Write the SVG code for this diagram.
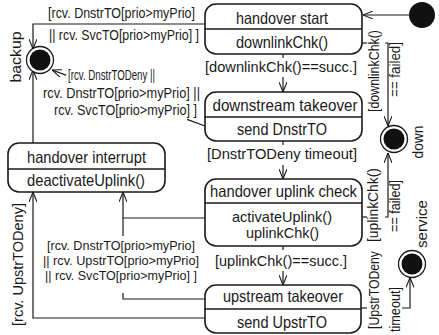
<svg xmlns="http://www.w3.org/2000/svg" width="439" height="335" viewBox="0 0 439 335">
<defs>
<style>
.box{fill:#fff;stroke:#1a1a1a;stroke-width:1.6}
.div{stroke:#1a1a1a;stroke-width:1.4}
.ln{fill:none;stroke:#1a1a1a;stroke-width:1.2}
.arr{fill:none;stroke:#1a1a1a;stroke-width:1.2;marker-end:url(#a)}
.nt{font-family:"Liberation Sans",Arial,sans-serif;font-size:16.5px;fill:#1a1a1a;text-anchor:middle}
.ns{font-size:15px}
.et{font-family:"Liberation Sans",Arial,sans-serif;font-size:15px;fill:#1a1a1a}
.es{font-size:13.5px}
.rt{font-family:"Liberation Sans",Arial,sans-serif;font-size:14px;fill:#1a1a1a}
.st{font-family:"Liberation Sans",Arial,sans-serif;font-size:15px;fill:#1a1a1a;text-anchor:middle}
.ring{fill:#fff;stroke:#1a1a1a;stroke-width:1.3}
.dot{fill:#111}
</style>
<marker id="a" viewBox="0 0 10 8" refX="10" refY="4" markerWidth="10" markerHeight="8" markerUnits="userSpaceOnUse" orient="auto">
<path d="M0,0 L10,4 L0,8" fill="none" stroke="#1a1a1a" stroke-width="1.1"/>
</marker>
</defs>
<rect width="439" height="335" fill="#fff"/>

<g id="connectors">
<path class="arr" d="M409,15 H363"/>
<path class="arr" d="M205,24 H33 V49"/>
<path class="ln" d="M205,126 L187,119.4"/>
<path class="arr" d="M66,75.1 L52,70"/>
<path class="ln" d="M283,54 V58"/>
<path class="arr" d="M283,77 V92"/>
<path class="ln" d="M283,141 V145"/>
<path class="arr" d="M283,165 V179"/>
<path class="ln" d="M283,246 V250"/>
<path class="arr" d="M283,271 V285"/>
<path class="ln" d="M362,43 H367"/>
<path class="arr" d="M385,43 H388 V126"/>
<path class="ln" d="M362,217 H367"/>
<path class="arr" d="M385,217 H388 V153"/>
<path class="ln" d="M361,308 H367"/>
<path class="arr" d="M402,308 H410 V277.5"/>
<path class="arr" d="M205,218 H123 V192"/>
<path class="ln" d="M205,299 H123 V293"/>
<path class="ln" d="M123,218 V236"/>
<path class="arr" d="M205,318 H33 V192"/>
<path class="arr" d="M33,143 V70"/>
</g>

<g id="initial"><circle class="dot" cx="422" cy="15" r="13"/></g>

<g id="backup">
<circle class="ring" cx="40" cy="60" r="13.5"/>
<circle class="dot" cx="40" cy="60" r="10.5"/>
<text class="st" transform="translate(21,57) rotate(-90)" textLength="51" lengthAdjust="spacingAndGlyphs">backup</text>
</g>

<g id="down">
<circle class="ring" cx="394" cy="139" r="13.5"/>
<circle class="dot" cx="394" cy="139" r="10.5"/>
<text class="st" transform="translate(423,142) rotate(-90)" textLength="33" lengthAdjust="spacingAndGlyphs">down</text>
</g>

<g id="service">
<circle class="ring" cx="412" cy="264" r="13.5"/>
<circle class="dot" cx="412" cy="264" r="10.5"/>
<text class="st" transform="translate(427,224) rotate(-90)" textLength="48" lengthAdjust="spacingAndGlyphs">service</text>
</g>

<g id="handover-start">
<rect class="box" x="205" y="4" width="157" height="50" rx="11"/>
<line class="div" x1="205" y1="29" x2="362" y2="29"/>
<text class="nt" x="282" y="24" textLength="92" lengthAdjust="spacingAndGlyphs">handover start</text>
<text class="nt" x="282" y="48" textLength="92" lengthAdjust="spacingAndGlyphs">downlinkChk()</text>
</g>

<g id="downstream-takeover">
<rect class="box" x="205" y="92" width="157" height="49" rx="11"/>
<line class="div" x1="205" y1="117" x2="362" y2="117"/>
<text class="nt" x="285" y="111" textLength="145" lengthAdjust="spacingAndGlyphs">downstream takeover</text>
<text class="nt" x="282" y="135" textLength="90" lengthAdjust="spacingAndGlyphs">send DnstrTO</text>
</g>

<g id="handover-uplink-check">
<rect class="box" x="205" y="179" width="157" height="67" rx="11"/>
<line class="div" x1="205" y1="203" x2="362" y2="203"/>
<text class="nt" x="283.5" y="197" textLength="147" lengthAdjust="spacingAndGlyphs">handover uplink check</text>
<text class="nt ns" x="282" y="222" textLength="100" lengthAdjust="spacingAndGlyphs">activateUplink()</text>
<text class="nt ns" x="282.5" y="238" textLength="73" lengthAdjust="spacingAndGlyphs">uplinkChk()</text>
</g>

<g id="upstream-takeover">
<rect class="box" x="205" y="285" width="156" height="48" rx="11"/>
<line class="div" x1="205" y1="309" x2="361" y2="309"/>
<text class="nt" x="283" y="302" textLength="120" lengthAdjust="spacingAndGlyphs">upstream takeover</text>
<text class="nt" x="282" y="328" textLength="90" lengthAdjust="spacingAndGlyphs">send UpstrTO</text>
</g>

<g id="handover-interrupt">
<rect class="box" x="8" y="143" width="157" height="49" rx="11"/>
<line class="div" x1="8" y1="169" x2="165" y2="169"/>
<text class="nt" x="86.5" y="163" textLength="119" lengthAdjust="spacingAndGlyphs">handover interrupt</text>
<text class="nt" x="86" y="186" textLength="118" lengthAdjust="spacingAndGlyphs">deactivateUplink()</text>
</g>

<g id="labels">
<text class="et" x="48" y="18" textLength="147" lengthAdjust="spacingAndGlyphs">[rcv. DnstrTO[prio&gt;myPrio]</text>
<text class="et" x="49" y="40" textLength="150" lengthAdjust="spacingAndGlyphs">|| rcv. SvcTO[prio&gt;myPrio] ]</text>
<text class="et" x="68" y="80" textLength="87" lengthAdjust="spacingAndGlyphs">[rcv. DnstrTODeny ||</text>
<text class="et" x="43" y="98" textLength="157" lengthAdjust="spacingAndGlyphs">rcv. DnstrTO[prio&gt;myPrio] ||</text>
<text class="et" x="54" y="115" textLength="143" lengthAdjust="spacingAndGlyphs">rcv. SvcTO[prio&gt;myPrio] ]</text>
<text class="et" x="205" y="72" textLength="152" lengthAdjust="spacingAndGlyphs">[downlinkChk()==succ.]</text>
<text class="et" x="207" y="159" textLength="150" lengthAdjust="spacingAndGlyphs">[DnstrTODeny timeout]</text>
<text class="et" x="215" y="266" textLength="132" lengthAdjust="spacingAndGlyphs">[uplinkChk()==succ.]</text>
<text class="et es" x="47" y="250" textLength="148" lengthAdjust="spacingAndGlyphs">[rcv. DnstrTO[prio&gt;myPrio]</text>
<text class="et es" x="43" y="265" textLength="156" lengthAdjust="spacingAndGlyphs">|| rcv. UpstrTO[prio&gt;myPrio]</text>
<text class="et es" x="45" y="280" textLength="152" lengthAdjust="spacingAndGlyphs">|| rcv. SvcTO[prio&gt;myPrio] ]</text>
<text class="rt" text-anchor="middle" transform="translate(378.5,71) rotate(-90)" textLength="82" lengthAdjust="spacingAndGlyphs">[downlinkChk()</text>
<text class="rt" text-anchor="middle" transform="translate(399.5,69.5) rotate(-90)" textLength="55" lengthAdjust="spacingAndGlyphs">== failed]</text>
<text class="rt" text-anchor="middle" transform="translate(377.5,205) rotate(-90)" textLength="74" lengthAdjust="spacingAndGlyphs">[uplinkChk()</text>
<text class="rt" text-anchor="middle" transform="translate(400,206) rotate(-90)" textLength="52" lengthAdjust="spacingAndGlyphs">== failed]</text>
<text class="rt" transform="translate(379,329) rotate(-90)" textLength="78" lengthAdjust="spacingAndGlyphs">[UpstrTODeny</text>
<text class="rt" transform="translate(399.5,332) rotate(-90)" textLength="45" lengthAdjust="spacingAndGlyphs">timeout]</text>
<text class="rt" transform="translate(23,326) rotate(-90)" textLength="123" lengthAdjust="spacingAndGlyphs">[rcv. UpstrTODeny]</text>
</g>
</svg>
